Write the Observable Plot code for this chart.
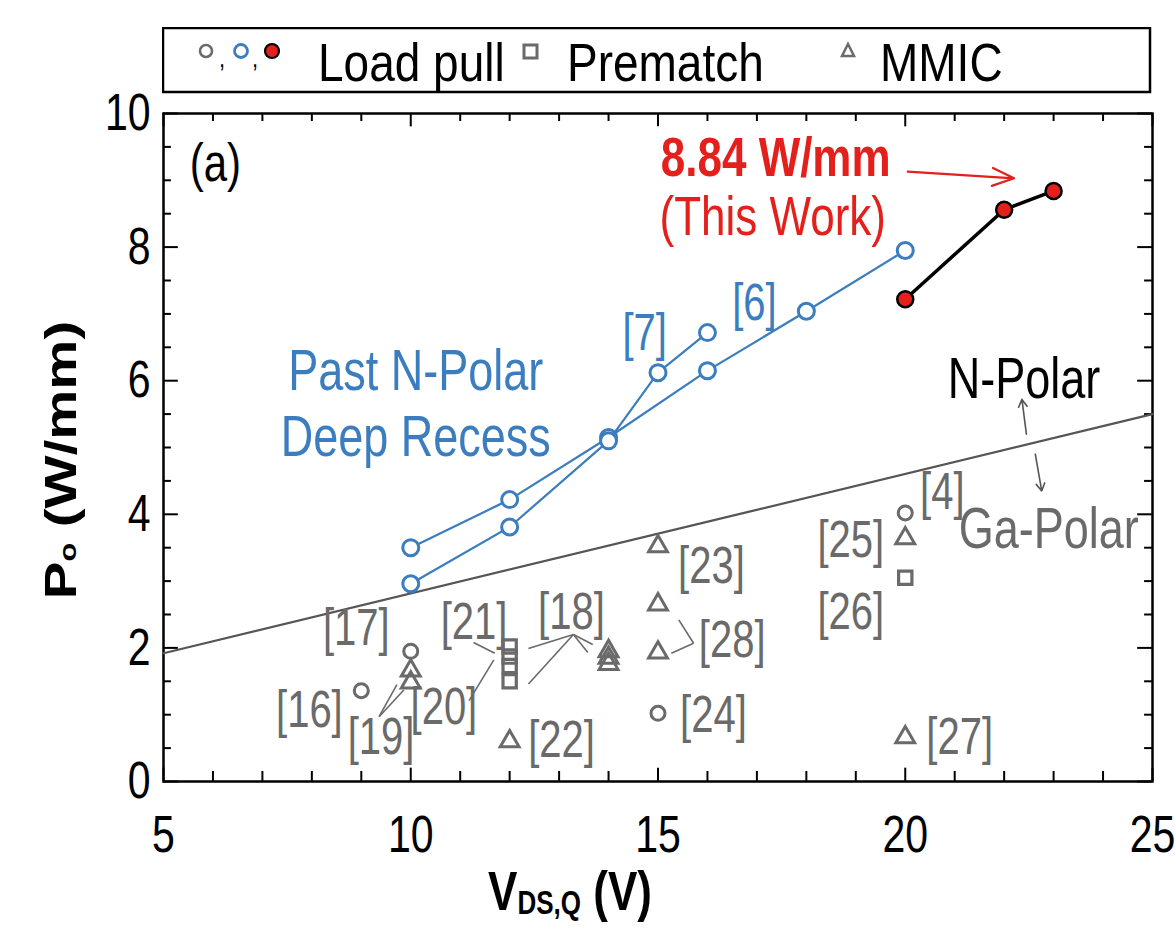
<!DOCTYPE html>
<html>
<head>
<meta charset="utf-8">
<script src="https://cdn.jsdelivr.net/npm/d3@7"></script>
<script src="https://cdn.jsdelivr.net/npm/@observablehq/plot@0.6"></script>
<style>
  body { margin: 0; background: #fff; }
  #wrap { position: relative; width: 1175px; height: 941px; overflow: hidden; }
  #legend { position: absolute; left: 162px; top: 27px; }
  #chart { position: absolute; left: 0; top: 0; }
</style>
</head>
<body>
<div id="wrap">
  <div id="chart"></div>
  <div id="legend"></div>
</div>
<script>
const FONT = '"Liberation Sans", Arial, sans-serif';
const BLUE = "#3b7dbf";
const GRAY = "#6a6a6a";
const RED = "#e3201c";
const STRETCH = 1.28; // the original figure's text is tall and narrow

// ---- data ----
// This work (red, filled)
const thisWorkV = [20, 22, 23];
const thisWorkP = [7.22, 8.56, 8.84];
// Past N-polar deep recess, ref [6]
const ref6V = [10, 12, 14, 16, 18, 20];
const ref6P = [3.5, 4.22, 5.15, 6.15, 7.04, 7.95];
// Past N-polar deep recess, ref [7]
const ref7V = [10, 12, 14, 15, 16];
const ref7P = [2.96, 3.81, 5.1, 6.12, 6.72];
// Ga-polar load pull (gray circles)
const lpV = [9, 10, 15, 20];
const lpP = [1.36, 1.95, 1.02, 4.02];
// Prematch (gray squares)
const preV = [12, 12, 12, 12, 20];
const preP = [2.02, 1.87, 1.73, 1.5, 3.05];
// MMIC (gray triangles)
const mmicV = [10, 10, 12, 14, 14, 14, 15, 15, 15, 20, 20];
const mmicP = [1.66, 1.48, 0.6, 1.95, 1.85, 1.76, 3.52, 2.65, 1.93, 3.64, 0.66];
// N-polar / Ga-polar boundary line
const boundaryV = [5, 25];
const boundaryP = [1.92, 5.5];

// axis ticks
const xTicks = [5, 10, 15, 20, 25];
const yTicks = [0, 2, 4, 6, 8, 10];
const xMinor = [6, 7, 8, 9, 11, 12, 13, 14, 16, 17, 18, 19, 21, 22, 23, 24];
const yMinor = [0.5, 1, 1.5, 2.5, 3, 3.5, 4.5, 5, 5.5, 6.5, 7, 7.5, 8.5, 9, 9.5];

// reference labels (gray)
const refText = ["[17]", "[16]", "[19]", "[20]", "[21]", "[18]", "[22]", "[23]", "[28]", "[24]", "[25]", "[26]", "[4]", "[27]"];
const refTextV = [8.9, 7.95, 9.4, 10.67, 11.28, 13.25, 13.05, 16.08, 16.5, 16.12, 18.9, 18.9, 20.75, 21.1];
const refTextP = [2.28, 1.06, 0.66, 1.1, 2.38, 2.53, 0.61, 3.22, 2.11, 0.98, 3.6, 2.52, 4.32, 0.66];

// leader lines for labels [19], [20], [21], [18], [28]
const leaders = [
  {x1: 9.36, y1: 0.97, x2: 9.72, y2: 1.45},
  {x1: 9.36, y1: 0.97, x2: 9.86, y2: 1.37},
  {x1: 11.18, y1: 1.21, x2: 11.68, y2: 1.82},
  {x1: 11.27, y1: 2.08, x2: 11.7, y2: 1.92},
  {x1: 13.29, y1: 2.2, x2: 12.38, y2: 1.99},
  {x1: 13.29, y1: 2.2, x2: 12.38, y2: 1.46},
  {x1: 13.29, y1: 2.2, x2: 13.68, y2: 2.05},
  {x1: 13.29, y1: 2.2, x2: 13.58, y2: 1.93},
  {x1: 15.27, y1: 1.92, x2: 15.72, y2: 2.07},
  {x1: 15.72, y1: 2.07, x2: 15.42, y2: 2.42}
];
const arrowsGray = [
  {x1: 22.45, y1: 5.2, x2: 22.36, y2: 5.72},
  {x1: 22.63, y1: 4.9, x2: 22.76, y2: 4.35}
];
const arrowRed = [{x1: 20.05, y1: 9.13, x2: 22.2, y2: 9.03}];

const toPts = (vs, ps) => vs.map((v, i) => ({v, p: ps[i]}));
const thisWork = toPts(thisWorkV, thisWorkP);
const ref6 = toPts(ref6V, ref6P);
const ref7 = toPts(ref7V, ref7P);
const lp = toPts(lpV, lpP);
const pre = toPts(preV, preP);
const mmic = toPts(mmicV, mmicP);
const boundary = toPts(boundaryV, boundaryP);
const refLabels = refText.map((t, i) => ({t, v: refTextV[i], p: refTextP[i]}));

const chart = Plot.plot({
  width: 1175,
  height: 941,
  marginLeft: 163,
  marginRight: 23,
  marginTop: 113,
  marginBottom: 160,
  x: {domain: [5, 25]},
  y: {domain: [0, 10]},
  style: {fontFamily: FONT, background: "transparent", color: "#000"},
  marks: [
    // tick labels
    Plot.axisX(xTicks, {tickSize: 0, tickPadding: 33, fontSize: 41, label: null, tickFormat: d => String(d)}),
    Plot.axisY(yTicks, {tickSize: 0, tickPadding: 13, fontSize: 41, label: null, tickFormat: d => String(d)}),
    // inward ticks on all four sides
    Plot.ruleX(xTicks, {y1: 0, y2: 0.2, stroke: "#000", strokeWidth: 2}),
    Plot.ruleX(xMinor, {y1: 0, y2: 0.15, stroke: "#000", strokeWidth: 2}),
    Plot.ruleX(xTicks, {y1: 10, y2: 9.8, stroke: "#000", strokeWidth: 2}),
    Plot.ruleX(xMinor, {y1: 10, y2: 9.88, stroke: "#000", strokeWidth: 2}),
    Plot.ruleY(yTicks, {x1: 5, x2: 5.3, stroke: "#000", strokeWidth: 2}),
    Plot.ruleY(yMinor, {x1: 5, x2: 5.16, stroke: "#000", strokeWidth: 2}),
    Plot.ruleY(yTicks, {x1: 25, x2: 24.7, stroke: "#000", strokeWidth: 2}),
    Plot.ruleY(yMinor, {x1: 25, x2: 24.84, stroke: "#000", strokeWidth: 2}),
    Plot.frame({stroke: "#000", strokeWidth: 2.5}),

    // boundary line
    Plot.line(boundary, {x: "v", y: "p", stroke: "#555", strokeWidth: 2.2}),

    // leader lines
    Plot.link(leaders, {x1: "x1", y1: "y1", x2: "x2", y2: "y2", stroke: GRAY, strokeWidth: 1.6}),
    Plot.arrow(arrowsGray, {x1: "x1", y1: "y1", x2: "x2", y2: "y2", stroke: "#555", strokeWidth: 1.6, headLength: 8}),
    Plot.arrow(arrowRed, {x1: "x1", y1: "y1", x2: "x2", y2: "y2", stroke: RED, strokeWidth: 2.2, headLength: 16, headAngle: 45}),

    // gray reference points
    Plot.dot(pre, {x: "v", y: "p", symbol: "square", r: 7.5, stroke: GRAY, strokeWidth: 3.2, fill: "none"}),
    Plot.dot(mmic, {x: "v", y: "p", symbol: "triangle", r: 7, stroke: GRAY, strokeWidth: 3, fill: "none"}),
    Plot.dot(lp, {x: "v", y: "p", symbol: "circle", r: 7, stroke: GRAY, strokeWidth: 3, fill: "none"}),

    // past N-polar (blue)
    Plot.line(ref6, {x: "v", y: "p", stroke: BLUE, strokeWidth: 2.2}),
    Plot.line(ref7, {x: "v", y: "p", stroke: BLUE, strokeWidth: 2.2}),
    Plot.dot(ref6, {x: "v", y: "p", r: 8, stroke: BLUE, strokeWidth: 3, fill: "white"}),
    Plot.dot(ref7, {x: "v", y: "p", r: 8, stroke: BLUE, strokeWidth: 3, fill: "white"}),

    // this work
    Plot.line(thisWork, {x: "v", y: "p", stroke: "#000", strokeWidth: 3.5}),
    Plot.dot(thisWork, {x: "v", y: "p", r: 8, stroke: "#000", strokeWidth: 2.5, fill: RED}),

    // annotations
    Plot.text(refLabels, {x: "v", y: "p", text: "t", fill: GRAY, fontSize: 40}),
    Plot.text(["(a)"], {x: 6.05, y: 9.25, fill: "#000", fontSize: 42}),
    Plot.text(["Past N-Polar"], {x: 10.1, y: 6.13, fill: BLUE, fontSize: 45}),
    Plot.text(["Deep Recess"], {x: 10.1, y: 5.14, fill: BLUE, fontSize: 45}),
    Plot.text(["[7]"], {x: 14.73, y: 6.7, fill: BLUE, fontSize: 40}),
    Plot.text(["[6]"], {x: 16.95, y: 7.15, fill: BLUE, fontSize: 40}),
    Plot.text(["8.84 W/mm"], {x: 17.38, y: 9.33, fill: RED, fontSize: 44, fontWeight: "bold"}),
    Plot.text(["(This Work)"], {x: 17.32, y: 8.45, fill: RED, fontSize: 44}),
    Plot.text(["N-Polar"], {x: 22.4, y: 6.02, fill: "#000", fontSize: 45}),
    Plot.text(["Ga-Polar"], {x: 22.9, y: 3.77, fill: GRAY, fontSize: 45})
  ]
});
document.getElementById("chart").appendChild(chart);

// axis titles with subscripts
const svg = d3.select(chart);
const yl = svg.append("text")
  .attr("class", "nostretch")
  .attr("transform", `translate(76,460) rotate(-90) scale(${STRETCH},1)`)
  .attr("text-anchor", "middle")
  .attr("font-family", FONT)
  .attr("font-weight", "bold")
  .attr("font-size", 44)
  .attr("fill", "#000");
yl.append("tspan").text("P");
yl.append("tspan").attr("font-size", 24).text("o");
yl.append("tspan").text(" (W/mm)");

const xl = svg.append("text")
  .attr("x", 570).attr("y", 910)
  .attr("text-anchor", "middle")
  .attr("font-family", FONT)
  .attr("font-weight", "bold")
  .attr("font-size", 44)
  .attr("fill", "#000");
xl.append("tspan").text("V");
xl.append("tspan").attr("font-size", 26).attr("dy", 3).text("DS,Q");
xl.append("tspan").attr("dy", -3).text(" (V)");

// legend (HTML-side SVG above the chart)
const lg = d3.select("#legend").append("svg").attr("width", 990).attr("height", 68);
lg.append("rect").attr("x", 1).attr("y", 1).attr("width", 987).attr("height", 64)
  .attr("fill", "white").attr("stroke", "#000").attr("stroke-width", 2.5);
lg.append("circle").attr("cx", 44).attr("cy", 24).attr("r", 6).attr("fill", "none").attr("stroke", GRAY).attr("stroke-width", 2.5);
lg.append("circle").attr("cx", 79).attr("cy", 24).attr("r", 6.5).attr("fill", "none").attr("stroke", BLUE).attr("stroke-width", 2.8);
lg.append("circle").attr("cx", 110).attr("cy", 24).attr("r", 7).attr("fill", RED).attr("stroke", "#000").attr("stroke-width", 2.2);
lg.append("text").attr("x", 57).attr("y", 40).attr("font-family", FONT).attr("font-size", 22).text(",");
lg.append("text").attr("x", 90).attr("y", 40).attr("font-family", FONT).attr("font-size", 22).text(",");
const legendText = [["Load pull", 156], ["Prematch", 405], ["MMIC", 718]];
for (const [t, x] of legendText) {
  lg.append("text").attr("x", x).attr("y", 54).attr("font-family", FONT).attr("font-size", 46).text(t);
}
lg.append("rect").attr("x", 362).attr("y", 18).attr("width", 13).attr("height", 13).attr("fill", "none").attr("stroke", GRAY).attr("stroke-width", 3);
lg.append("path").attr("d", "M686,17 L692,29 L680,29 Z").attr("fill", "none").attr("stroke", GRAY).attr("stroke-width", 2.5);

// stretch all texts vertically to mimic the tall, narrow lettering
function stretch(el, s) {
  const t = el.getAttribute("transform") || "";
  const x = parseFloat(el.getAttribute("x")) || 0;
  const y = parseFloat(el.getAttribute("y")) || 0;
  el.setAttribute("transform", `${t} translate(${x},${y}) scale(1,${s}) translate(${-x},${-y})`);
}
chart.querySelectorAll("text:not(.nostretch)").forEach(el => stretch(el, STRETCH));
document.querySelectorAll("#legend text").forEach(el => stretch(el, 1.18));
</script>
</body>
</html>
